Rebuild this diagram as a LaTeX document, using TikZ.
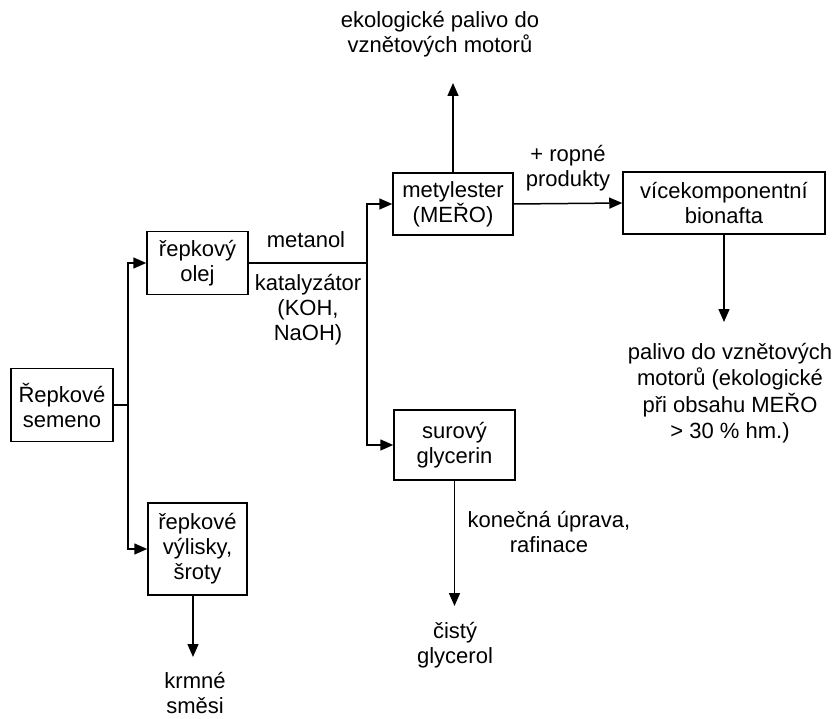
\documentclass[tikz,border=0pt]{standalone}
\usepackage{fontspec}
\setmainfont{Liberation Sans}
\usetikzlibrary{arrows.meta, positioning}

\begin{document}
\begin{tikzpicture}[x=1pt, y=-1pt,
  box/.style={draw, line width=1.5pt, align=center, inner sep=0pt,
              font=\fontsize{22}{25}\selectfont},
  txt/.style={align=center, inner sep=0pt, font=\fontsize{22}{25}\selectfont},
  arrow/.style={-{Triangle[length=13pt, width=11pt]}, line width=1.5pt},
  line/.style={line width=1.5pt}
]
\useasboundingbox (0,0) rectangle (835,719);

% boxes
\node[box, minimum width=102pt, minimum height=73pt] (sem)  at (62,405)    {Řepkové\\semeno};
\node[box, minimum width=101pt, minimum height=63pt] (olej) at (197.5,263) {řepkový\\olej};
\node[box, minimum width=99pt,  minimum height=92pt] (vyl)  at (197.5,549) {řepkové\\výlisky,\\šroty};
\node[box, minimum width=120pt, minimum height=62pt] (mer)  at (453,204)   {metylester\\(MEŘO)};
\node[box, minimum width=121pt, minimum height=70pt] (gly)  at (454.5,445) {surový\\glycerin};
\node[box, minimum width=202pt, minimum height=62pt] (bio)  at (724,203)   {vícekomponentní\\bionafta};

% texts
\node[txt] (eko)   at (440,34)  {ekologické palivo do\\vznětových motorů};
\node[txt] (ropne) at (568,168) {+ ropné\\produkty};
\node[txt] (met)   at (306,240) {metanol};
\node[txt] (kat)   at (308,310) {katalyzátor\\(KOH,\\NaOH)};
\node[txt, font=\fontsize{22}{26.5}\selectfont] (pal) at (730,393)
  {palivo do vznětových\\motorů (ekologické\\při obsahu MEŘO\\> 30 \% hm.)};
\node[txt] (raf)   at (549,532) {konečná úprava,\\rafinace};
\node[txt] (cis)   at (455,645) {čistý\\glycerol};
\node[txt] (krm)   at (195,693) {krmné\\směsi};

% junctions and arrow ends
\coordinate (j1) at (128,405);
\coordinate (j2) at (367,263);
\coordinate (ekoin) at (453,83);
\coordinate (palin) at (725,322);
\coordinate (cisin) at (455,606);
\coordinate (krmin) at (193,657);

\draw[line]  (sem.east) -- (j1);
\draw[arrow] (j1) |- (olej.west);
\draw[arrow] (j1) |- (vyl.west);
\draw[line]  (olej.east) -- (j2);
\draw[arrow] (j2) |- (mer.west);
\draw[arrow] (j2) |- (gly.west);
\draw[arrow] (mer.north) -- (ekoin);
\draw[arrow] (mer.east) -- (bio.west);
\draw[arrow] (bio.south) -- (bio.south |- palin);
\draw[arrow] (gly.south) -- (gly.south |- cisin);
\draw[arrow] (vyl.south -| krmin) -- (krmin);
\end{tikzpicture}
\end{document}
